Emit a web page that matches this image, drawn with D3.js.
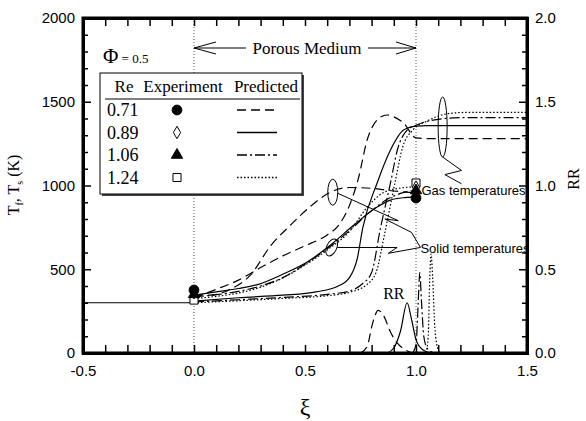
<!DOCTYPE html>
<html>
<head>
<meta charset="utf-8">
<script src="https://cdn.jsdelivr.net/npm/d3@7"></script>
<style>
  body { margin: 0; background: #fff; }
  .tick text { font-family: "Liberation Sans", Arial, sans-serif; font-size: 15px; fill: #000; }
  .serif { font-family: "Liberation Serif", "Times New Roman", serif; fill: #000; }
  .sans { font-family: "Liberation Sans", Arial, sans-serif; fill: #000; }
</style>
</head>
<body>
<svg width="586" height="421"></svg>
<script>
var svg = d3.select('svg');

// ---- data ----
var reLabels = ['0.71', '0.89', '1.06', '1.24'];
var dashStyles = ['9,5', null, '10,3,2,3', '1.5,2'];

// gas temperature (xi, K)
var gas071 = [[0,330],[0.1,380],[0.2,435],[0.3,510],[0.4,580],[0.5,640],[0.6,705],[0.65,760],[0.7,880],[0.74,1040],[0.78,1272],[0.825,1391],[0.87,1421],[0.9,1410],[0.944,1373],[1.0,1284],[1.05,1280],[1.5,1280]];
var gas089 = [[0,310],[0.2,330],[0.4,345],[0.55,365],[0.65,400],[0.7,450],[0.736,567],[0.76,746],[0.825,1015],[0.885,1212],[0.944,1331],[1.0,1355],[1.05,1357],[1.5,1357]];
var gas106 = [[0,305],[0.2,318],[0.4,332],[0.6,350],[0.7,370],[0.76,415],[0.8,480],[0.84,746],[0.885,1015],[0.916,1212],[0.96,1331],[1.0,1360],[1.1,1395],[1.2,1405],[1.5,1405]];
var gas124 = [[0,300],[0.2,312],[0.4,326],[0.6,342],[0.7,362],[0.78,410],[0.82,480],[0.86,720],[0.905,1015],[0.94,1230],[0.985,1330],[1.05,1385],[1.15,1430],[1.25,1437],[1.5,1437]];

// solid temperature (xi, K)
var sol071 = [[0,350],[0.07,345],[0.164,380],[0.255,466],[0.345,640],[0.435,764],[0.52,870],[0.615,960],[0.7,988],[0.8,983],[0.9,967],[1.0,955]];
var sol089 = [[0,345],[0.1,365],[0.2,385],[0.29,410],[0.4,470],[0.51,543],[0.615,645],[0.72,764],[0.825,872],[0.885,913],[0.95,928],[1.0,932]];
var sol106 = [[0,335],[0.1,348],[0.2,368],[0.3,400],[0.4,450],[0.5,530],[0.6,622],[0.7,730],[0.8,850],[0.88,925],[0.95,960],[1.0,972]];
var sol124 = [[0,325],[0.1,338],[0.2,358],[0.3,393],[0.4,448],[0.5,525],[0.6,615],[0.7,725],[0.78,870],[0.85,955],[0.93,985],[1.0,992]];

// reaction rate (xi, RR)
var rr071 = [[0.75,0],[0.78,0.04],[0.805,0.18],[0.83,0.255],[0.855,0.22],[0.885,0.125],[0.915,0.06],[0.945,0.025],[0.98,0.003],[1.0,0]];
var rr089 = [[0.87,0],[0.9,0.03],[0.93,0.13],[0.96,0.30],[0.98,0.2],[1.0,0.08],[1.03,0.02],[1.07,0]];
var rr106 = [[0.985,0],[1.0,0.05],[1.01,0.3],[1.017,0.48],[1.025,0.3],[1.035,0.1],[1.05,0.03],[1.08,0]];
var rr124 = [[1.045,0],[1.055,0.1],[1.062,0.45],[1.068,0.59],[1.075,0.45],[1.085,0.15],[1.1,0.02],[1.11,0]];

// experiments at inlet and exit (K)
var expInlet = [376, 360, 350, 316];
var expExit = [925, 990, 970, 1015];

var inletFlat = [[-0.5,300],[0,300]];

// ---- layout ----
var plot = {l: 83, r: 527, t: 18, b: 353};

var x = d3.scaleLinear().domain([-0.5, 1.5]).range([plot.l, plot.r]);
var yT = d3.scaleLinear().domain([0, 2000]).range([plot.b, plot.t]);
var yRR = d3.scaleLinear().domain([0, 2]).range([plot.b, plot.t]);

var lineT = d3.line().x(function(d){ return x(d[0]); }).y(function(d){ return yT(d[1]); }).curve(d3.curveMonotoneX);
var lineRR = d3.line().x(function(d){ return x(d[0]); }).y(function(d){ return yRR(d[1]); }).curve(d3.curveMonotoneX);

// reference dotted lines at porous medium boundaries
svg.selectAll('.bound')
    .data([0, 1])
    .enter().append('line')
    .attr('x1', function(d){ return x(d); }).attr('x2', function(d){ return x(d); })
    .attr('y1', plot.t).attr('y2', plot.b)
    .attr('stroke', '#555').attr('stroke-width', 1).attr('stroke-dasharray', '1,2');

// curves
var curveG = svg.append('g').attr('fill', 'none').attr('stroke', '#000').attr('stroke-width', 1.2);

curveG.append('path').attr('d', lineT(inletFlat));

[gas071, gas089, gas106, gas124].forEach(function(s, i){
    curveG.append('path').attr('d', lineT(s)).attr('stroke-dasharray', dashStyles[i]);
});
[sol071, sol089, sol106, sol124].forEach(function(s, i){
    curveG.append('path').attr('d', lineT(s)).attr('stroke-dasharray', dashStyles[i]);
});
[rr071, rr089, rr106, rr124].forEach(function(s, i){
    curveG.append('path').attr('d', lineRR(s)).attr('stroke-dasharray', dashStyles[i]);
});

// experiment markers
var symbols = [d3.symbolCircle, d3.symbolDiamond, d3.symbolTriangle, d3.symbolSquare];
var symSize = [75, 45, 55, 65];
var symFill = ['#000', '#fff', '#000', '#fff'];

function drawMarker(g, i, px, py) {
    g.append('path')
        .attr('d', d3.symbol().type(symbols[i]).size(symSize[i])())
        .attr('transform', 'translate(' + [px, py] + ')')
        .attr('fill', symFill[i]).attr('stroke', '#000').attr('stroke-width', 1);
}
var markG = svg.append('g');
[3, 1, 2, 0].forEach(function(i){
    drawMarker(markG, i, x(0), yT(expInlet[i]));
});
[3, 1, 2, 0].forEach(function(i){
    drawMarker(markG, i, x(1), yT(expExit[i]));
});

// ---- axes ----
var xTicks = d3.range(-5, 16).map(function(d){ return d / 10; });
function isHalf(d) { return Math.abs(d * 2 - Math.round(d * 2)) < 1e-6; }
function fmt(d) { return d.toFixed(1); }

svg.append('g')
    .attr('transform', 'translate(0,' + plot.b + ')')
    .call(d3.axisBottom(x).tickValues(xTicks).tickSizeInner(-8).tickSizeOuter(0).tickPadding(12)
        .tickFormat(function(d){ return isHalf(d) ? fmt(d) : ''; }));
svg.append('g')
    .attr('transform', 'translate(0,' + plot.t + ')')
    .call(d3.axisTop(x).tickValues(xTicks).tickSizeInner(-8).tickSizeOuter(0).tickFormat(''));

var yMinor = d3.range(0, 2001, 100);
var yAxisL = svg.append('g')
    .attr('transform', 'translate(' + plot.l + ',0)')
    .call(d3.axisLeft(yT).tickValues(yMinor).tickSizeOuter(0).tickPadding(8)
        .tickSize(-5).tickFormat(function(d){ return d % 500 === 0 ? d : ''; }));
yAxisL.selectAll('.tick line').attr('x2', function(d){ return d % 500 === 0 ? 8 : 5; });

var rMinor = d3.range(0, 21).map(function(d){ return d / 10; });
var yAxisR = svg.append('g')
    .attr('transform', 'translate(' + plot.r + ',0)')
    .call(d3.axisRight(yRR).tickValues(rMinor).tickSizeOuter(0).tickPadding(8)
        .tickSize(-5).tickFormat(function(d){ return isHalf(d) ? fmt(d) : ''; }));
yAxisR.selectAll('.tick line').attr('x2', function(d){ return isHalf(d) ? -8 : -5; });

svg.selectAll('.domain').attr('stroke', '#000').attr('stroke-width', 3);
svg.selectAll('.tick line').attr('stroke', '#000').attr('stroke-width', 1.5);
// close the frame corners
svg.append('rect')
    .attr('x', plot.l).attr('y', plot.t)
    .attr('width', plot.r - plot.l).attr('height', plot.b - plot.t)
    .attr('fill', 'none').attr('stroke', '#000').attr('stroke-width', 3);

// axis titles
svg.append('text').attr('class', 'serif')
    .attr('x', (plot.l + plot.r) / 2).attr('y', 415)
    .attr('text-anchor', 'middle').attr('font-size', 24).text('ξ');

var yTitle = svg.append('text').attr('class', 'serif')
    .attr('transform', 'translate(19,185) rotate(-90)')
    .attr('text-anchor', 'middle').attr('font-size', 16);
yTitle.append('tspan').text('T');
yTitle.append('tspan').attr('font-size', 10).attr('dy', 4).text('f');
yTitle.append('tspan').attr('dy', -4).text(', T');
yTitle.append('tspan').attr('font-size', 10).attr('dy', 4).text('s');
yTitle.append('tspan').attr('dy', -4).text(' (K)');

svg.append('text').attr('class', 'serif')
    .attr('transform', 'translate(579,179) rotate(-90)')
    .attr('text-anchor', 'middle').attr('font-size', 16).text('RR');

// ---- porous medium arrows ----
var arrowY = 48;
var annG = svg.append('g').attr('stroke', '#000').attr('stroke-width', 1).attr('fill', 'none');
annG.append('path').attr('d', 'M' + [x(0), arrowY] + 'L' + [x(0) + 52, arrowY]
    + 'M' + [x(0) + 22, arrowY - 6] + 'L' + [x(0), arrowY] + 'L' + [x(0) + 22, arrowY + 6]);
annG.append('path').attr('d', 'M' + [x(1) - 48, arrowY] + 'L' + [x(1), arrowY]
    + 'M' + [x(1) - 20, arrowY - 6] + 'L' + [x(1), arrowY] + 'L' + [x(1) - 20, arrowY + 6]);
svg.append('text').attr('class', 'serif')
    .attr('x', (x(0) + 52 + x(1) - 48) / 2).attr('y', arrowY + 6)
    .attr('text-anchor', 'middle').attr('font-size', 17).text('Porous Medium');

// phi label
var phi = svg.append('text').attr('class', 'serif').attr('x', 103).attr('y', 63);
phi.append('tspan').attr('font-size', 21).text('Φ');
phi.append('tspan').attr('font-size', 13).text(' = 0.5');

// ---- callouts ----
var calloutG = svg.append('g').attr('stroke', '#000').attr('stroke-width', 1).attr('fill', 'none');
calloutG.append('ellipse').attr('cx', x(1.12)).attr('cy', yT(1349)).attr('rx', 4.5).attr('ry', 30);
calloutG.append('path').attr('d', d3.line()([[x(1.12), yT(1170)], [x(1.205), yT(1090)], [x(1.13), yT(1065)], [x(1.205), yT(1010)]]));

calloutG.append('ellipse').attr('cx', x(0.625)).attr('cy', yT(960)).attr('rx', 5).attr('ry', 13);
calloutG.append('path').attr('d', d3.line()([[x(0.645), yT(955)], [x(0.92), yT(790)], [x(0.86), yT(800)], [x(0.98), yT(720)], [x(1.02), yT(630)]]));

calloutG.append('ellipse').attr('cx', x(0.62)).attr('cy', yT(630)).attr('rx', 5).attr('ry', 9)
    .attr('transform', 'rotate(25,' + [x(0.62), yT(630)] + ')');
calloutG.append('path').attr('d', d3.line()([[x(0.645), yT(630)], [x(0.915), yT(630)], [x(0.875), yT(595)], [x(1.02), yT(630)]]));

svg.append('text').attr('class', 'sans').attr('x', x(1.02) + 1).attr('y', yT(945))
    .attr('font-size', 13).text('Gas temperatures');
svg.append('text').attr('class', 'sans').attr('x', x(1.02)).attr('y', yT(600))
    .attr('font-size', 13).text('Solid temperatures');
svg.append('text').attr('class', 'serif').attr('x', x(0.9)).attr('y', yRR(0.32))
    .attr('text-anchor', 'middle').attr('font-size', 16).text('RR');

// ---- legend ----
var legend = svg.append('g').attr('transform', 'translate(100,73)');
legend.append('rect').attr('x', 2).attr('y', 2).attr('width', 202).attr('height', 121).attr('fill', '#444');
legend.append('rect').attr('width', 202).attr('height', 121).attr('fill', '#fff').attr('stroke', '#000').attr('stroke-width', 1);
legend.append('text').attr('class', 'serif').attr('x', 24).attr('y', 19).attr('text-anchor', 'middle').attr('font-size', 17).text('Re');
legend.append('text').attr('class', 'serif').attr('x', 83).attr('y', 19).attr('text-anchor', 'middle').attr('font-size', 17).text('Experiment');
legend.append('text').attr('class', 'serif').attr('x', 166).attr('y', 19).attr('text-anchor', 'middle').attr('font-size', 17).text('Predicted');
legend.append('line').attr('x1', 5).attr('x2', 200).attr('y1', 26).attr('y2', 26).attr('stroke', '#000').attr('stroke-width', 1);

reLabels.forEach(function(lab, i){
    var cy = 37 + i * 22.5;
    legend.append('text').attr('class', 'serif').attr('x', 7).attr('y', cy + 6).attr('font-size', 18).text(lab);
    drawMarker(legend, i, 77, cy);
    legend.append('line').attr('x1', 137).attr('x2', 177).attr('y1', cy).attr('y2', cy)
        .attr('stroke', '#000').attr('stroke-width', 1.3).attr('stroke-dasharray', dashStyles[i]);
});
</script>
</body>
</html>
